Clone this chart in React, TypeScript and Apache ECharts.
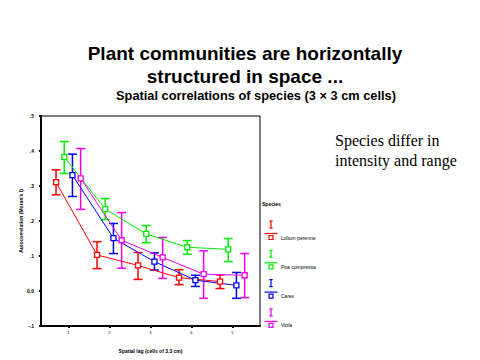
import React, { useEffect, useRef } from "react";
import * as echarts from "echarts";

const lags = [1, 2, 3, 4, 5];
const speciesNames = ["Lolium perenne", "Poa compressa", "Carex", "Viola"];
const speciesColors = ["#ff0000", "#00ee00", "#0000ee", "#ee00ee"];
const yTicks = [-0.1, 0, 0.1, 0.2, 0.3, 0.4, 0.5];

const redMean = [0.311, 0.103, 0.073, 0.038, 0.027];
const redLow = [0.275, 0.064, 0.033, 0.018, 0.007];
const redHigh = [0.346, 0.141, 0.11, 0.061, 0.046];

const greenMean = [0.383, 0.234, 0.163, 0.125, 0.119];
const greenLow = [0.336, 0.204, 0.138, 0.105, 0.084];
const greenHigh = [0.427, 0.264, 0.187, 0.144, 0.15];

const blueMean = [0.331, 0.151, 0.084, 0.031, 0.016];
const blueLow = [0.27, 0.107, 0.06, 0.013, -0.021];
const blueHigh = [0.391, 0.193, 0.109, 0.045, 0.053];

const magentaMean = [0.322, 0.145, 0.096, 0.048, 0.045];
const magentaLow = [0.233, 0.065, 0.036, -0.021, -0.019];
const magentaHigh = [0.407, 0.224, 0.153, 0.115, 0.107];

const means = [redMean, greenMean, blueMean, magentaMean];
const lows = [redLow, greenLow, blueLow, magentaLow];
const highs = [redHigh, greenHigh, blueHigh, magentaHigh];

export default function App() {
  const ref = useRef<HTMLDivElement>(null);
  useEffect(() => {
    if (!ref.current) return;
    const chart = echarts.init(ref.current, null, { renderer: "svg" });
    const dodge = [-0.3, -0.1, 0.1, 0.3];
    const series: any[] = [];
    speciesNames.forEach((name, i) => {
      const c = speciesColors[i];
      series.push({
        type: "line",
        name,
        data: lags.map((l, j) => [l + dodge[i], means[i][j]]),
        symbol: "rect",
        symbolSize: 5,
        showSymbol: true,
        lineStyle: { color: c, width: 1 },
        itemStyle: { color: "#ffffff", borderColor: c, borderWidth: 1.3 },
        z: 3,
      });
      series.push({
        type: "custom",
        name: name + " err",
        data: lags.map((l, j) => [l + dodge[i], lows[i][j], highs[i][j]]),
        encode: { x: 0, y: [1, 2] },
        z: 2,
        renderItem: (params: any, api: any) => {
          const x = api.value(0);
          const pHi = api.coord([x, api.value(2)]);
          const pLo = api.coord([x, api.value(1)]);
          const hw = 4.5;
          const st = { stroke: c, lineWidth: 1.5 };
          return {
            type: "group",
            children: [
              { type: "line", shape: { x1: pHi[0], y1: pHi[1], x2: pLo[0], y2: pLo[1] }, style: st },
              { type: "line", shape: { x1: pHi[0] - hw, y1: pHi[1], x2: pHi[0] + hw, y2: pHi[1] }, style: st },
              { type: "line", shape: { x1: pLo[0] - hw, y1: pLo[1], x2: pLo[0] + hw, y2: pLo[1] }, style: st },
            ],
          };
        },
      });
    });

    const graphic: any[] = [
      {
        type: "text",
        left: 335,
        top: 130,
        style: {
          text: "Species differ in\nintensity and range",
          font: '16px "Liberation Serif", "Times New Roman", serif',
          lineHeight: 20,
          fill: "#000",
        },
      },
      {
        type: "text",
        x: 262,
        y: 204,
        style: { text: "Species", font: 'bold 5px Arial, "Liberation Sans", sans-serif', fill: "#000", verticalAlign: "middle" },
      },
    ];
    speciesNames.forEach((name, i) => {
      const c = speciesColors[i];
      const by = 221 + i * 29.3;
      const cx = 271;
      graphic.push({
        type: "group",
        children: [
          { type: "line", shape: { x1: cx, y1: by, x2: cx, y2: by + 7 }, style: { stroke: c, lineWidth: 1.2 } },
          { type: "line", shape: { x1: cx - 1.7, y1: by, x2: cx + 1.7, y2: by }, style: { stroke: c, lineWidth: 1.2 } },
          { type: "line", shape: { x1: cx - 1.7, y1: by + 7, x2: cx + 1.7, y2: by + 7 }, style: { stroke: c, lineWidth: 1.2 } },
          { type: "line", shape: { x1: 264.5, y1: by + 12.5, x2: 277.5, y2: by + 12.5 }, style: { stroke: c, lineWidth: 1.2 } },
          { type: "rect", shape: { x: cx - 2, y: by + 14.5, width: 4, height: 4 }, style: { stroke: c, fill: "#fff", lineWidth: 1.2 } },
          {
            type: "text",
            x: 281,
            y: by + 16.5,
            style: { text: name, font: '5px Arial, "Liberation Sans", sans-serif', fill: "#000", verticalAlign: "middle" },
          },
        ],
      });
    });

    chart.setOption({
      animation: false,
      backgroundColor: "#ffffff",
      title: [
        {
          text: "Plant communities are horizontally\nstructured in space ...",
          left: 240,
          top: 37,
          textAlign: "center",
          textStyle: {
            fontFamily: 'Arial, "Liberation Sans", sans-serif',
            fontWeight: "bold",
            fontSize: 19,
            lineHeight: 23,
            color: "#000",
          },
        },
        {
          text: "Spatial correlations of species (3 × 3 cm cells)",
          left: 251,
          top: 84,
          textAlign: "center",
          textStyle: {
            fontFamily: 'Arial, "Liberation Sans", sans-serif',
            fontWeight: "bold",
            fontSize: 12.8,
            color: "#000",
          },
        },
      ],
      grid: {
        left: 41,
        right: 220,
        top: 116,
        bottom: 34,
        show: true,
        borderColor: "#000",
        borderWidth: 1,
        backgroundColor: "transparent",
      },
      xAxis: {
        type: "value",
        min: 0.333,
        max: 5.675,
        name: "Spatial lag (cells of 3.3 cm)",
        nameLocation: "middle",
        nameGap: 22,
        nameTextStyle: { fontFamily: 'Arial, "Liberation Sans", sans-serif', fontSize: 5, fontWeight: "bold", color: "#000" },
        axisLine: { show: true, onZero: false, lineStyle: { color: "#000", width: 2 } },
        axisTick: { show: true, customValues: lags, length: 2, lineStyle: { color: "#000", width: 2 } },
        axisLabel: {
          customValues: lags,
          fontSize: 4,
          margin: 4,
          color: "#000",
          fontFamily: 'Arial, "Liberation Sans", sans-serif',
        },
        splitLine: { show: false },
      },
      yAxis: {
        type: "value",
        min: -0.1,
        max: 0.5,
        interval: 0.1,
        name: "Autocorrelation (Moran's I)",
        nameLocation: "middle",
        nameRotate: 90,
        nameGap: 18,
        nameTextStyle: { fontFamily: 'Arial, "Liberation Sans", sans-serif', fontSize: 5, fontWeight: "bold", color: "#000" },
        axisLine: { show: true, onZero: false, lineStyle: { color: "#000", width: 2 } },
        axisTick: { show: true, length: 2, lineStyle: { color: "#000", width: 2 } },
        axisLabel: {
          fontSize: 5,
          margin: 7,
          color: "#000",
          fontWeight: "bold",
          fontFamily: 'Arial, "Liberation Sans", sans-serif',
          customValues: yTicks,
          formatter: (v: number) => {
            const r = Math.round(v * 10) / 10;
            if (r === 0) return "0.0";
            return r.toFixed(1).replace("0.", ".");
          },
        },
        splitLine: { show: false },
      },
      graphic,
      series,
    });
    return () => chart.dispose();
  }, []);
  return <div ref={ref} style={{ position: "absolute", left: 0, top: 0, width: 480, height: 360 }} />;
}
